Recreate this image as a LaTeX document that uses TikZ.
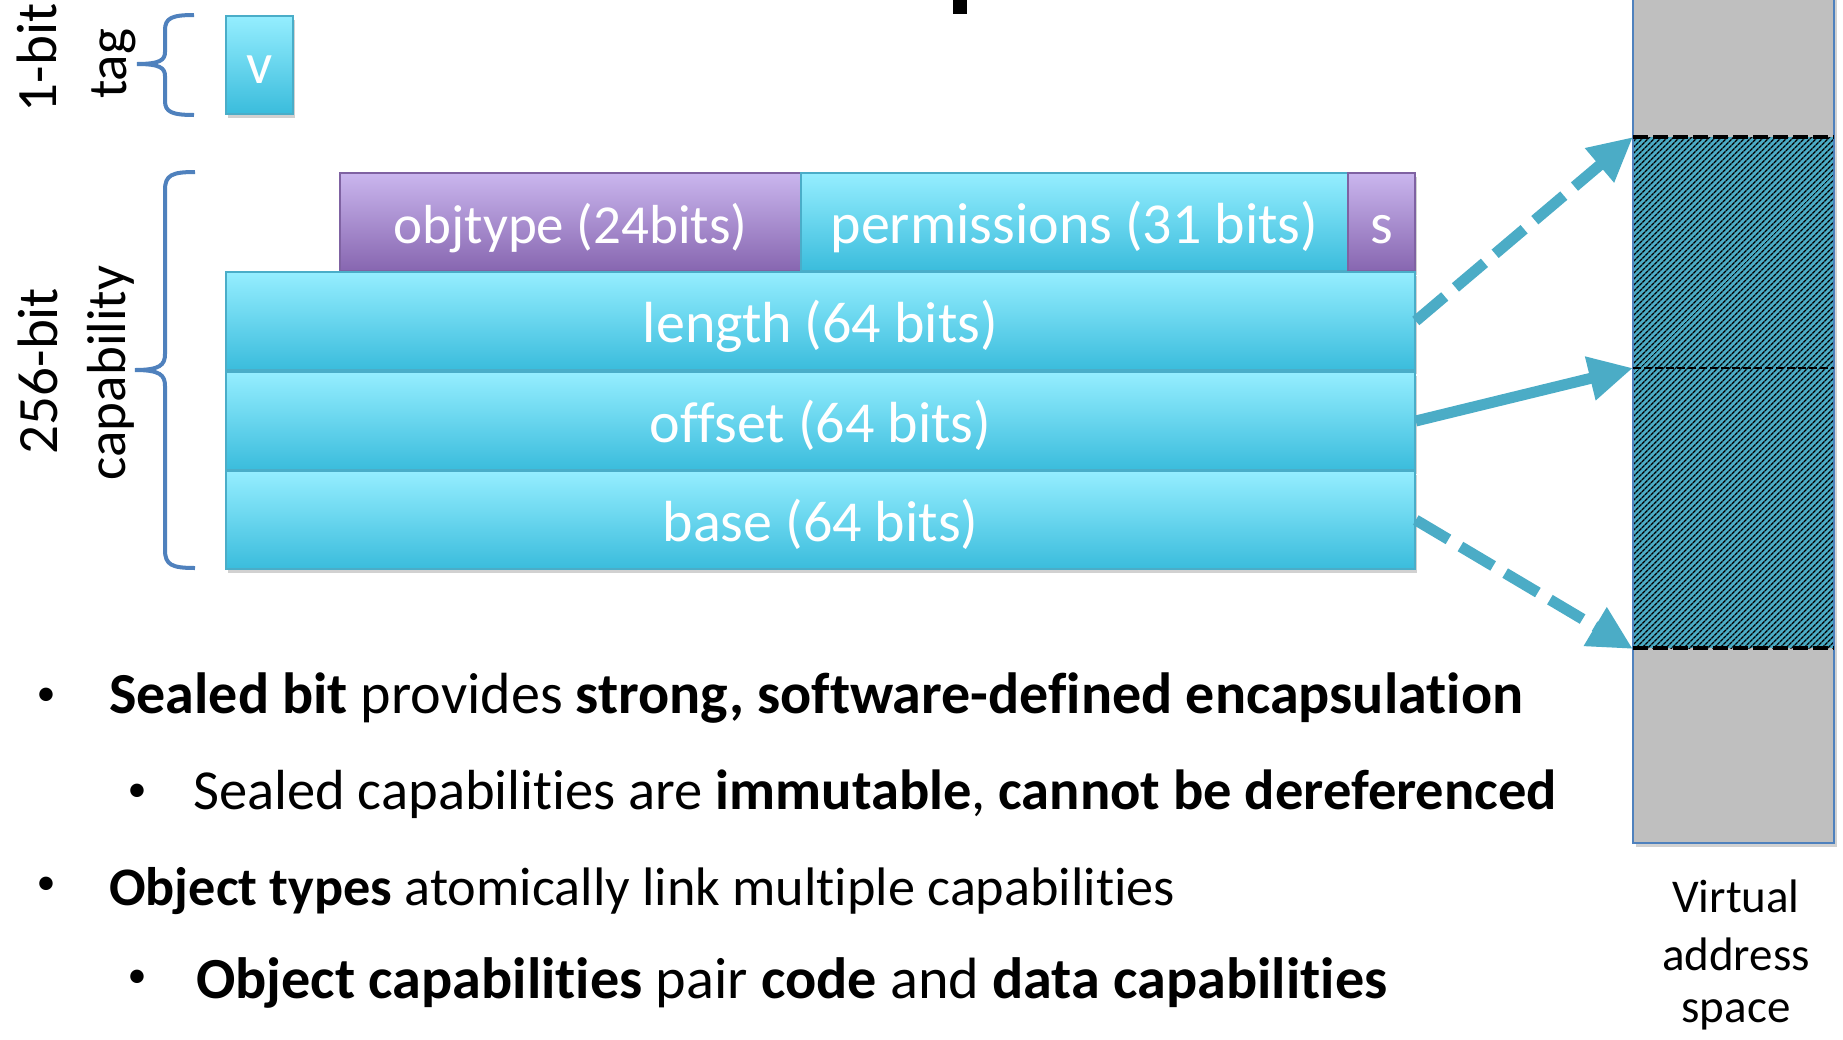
\documentclass[tikz,border=0pt]{standalone}
\usepackage{fontspec}
\setmainfont[Ligatures=NoCommon]{Carlito}
\usetikzlibrary{arrows.meta,patterns.meta,shadows}

\definecolor{cyanTop}{HTML}{95EEFF}
\definecolor{cyanBot}{HTML}{3ABCDC}
\definecolor{cyanEdge}{HTML}{4AADC8}
\definecolor{purpTop}{HTML}{CAB6EE}
\definecolor{purpBot}{HTML}{8766B0}
\definecolor{purpEdge}{HTML}{7F62A2}
\definecolor{pointer}{HTML}{4BACC6}
\definecolor{bracecol}{HTML}{4F81BD}
\definecolor{vagrey}{HTML}{BFBFBF}

\tikzset{
  boxshadow/.style={general shadow={fill=black, opacity=0.18, shadow xshift=2pt, shadow yshift=-4pt}},
  field/.style={boxshadow, inner sep=0pt, minimum height=98pt, line width=1.5pt,
    text=white, font=\fontsize{58}{60}\selectfont, text height=45pt, text depth=3pt},
  cyanfield/.style={field, draw=cyanEdge, top color=cyanTop, bottom color=cyanBot},
  purpfield/.style={field, draw=purpEdge, top color=purpTop, bottom color=purpBot},
  bracket/.style={draw=bracecol, line width=4pt},
  sidelabel/.style={rotate=90, anchor=base, inner sep=0pt, font=\fontsize{57}{60}\selectfont},
  sidelabelsmall/.style={rotate=90, anchor=base, inner sep=0pt, font=\fontsize{55}{60}\selectfont},
  pointerline/.style={draw=pointer, line width=11pt, -{Triangle[length=44pt,width=42pt]}},
  dashpointer/.style={pointerline, dash pattern=on 38pt off 14pt},
  bullettext/.style={anchor=base west, inner sep=0pt, font=\fontsize{54}{60}\selectfont},
  bulletdot/.style={anchor=center, inner sep=0pt, font=\fontsize{38}{40}\selectfont},
  valabel/.style={anchor=base, inner sep=0pt, font=\fontsize{47}{58}\selectfont},
  edgedash/.style={draw=black, line width=4pt, dash pattern=on 15pt off 5pt},
  middash/.style={draw=black, line width=2pt, dash pattern=on 8pt off 3pt},
}

\begin{document}
\begin{tikzpicture}[x=1pt,y=-1pt]
\useasboundingbox[fill=white] (0,0) rectangle (1843,1039);

% descender of the slide title above the frame
\fill[black] (953,-2) rectangle (967,14);

% side labels
\node[sidelabel] (onebit) at (56,58) {1-bit};
\node[sidelabelsmall] (tag) at (126,64) {tag};
\node[sidelabel] (cbits) at (57,371) {256-bit};
\node[sidelabelsmall] (cap) at (125,373) {capability};

% braces
\draw[bracket] (194,15) .. controls (172,15) and (165,18) .. (165,30) -- (165,52)
  .. controls (165,60) and (160,64) .. (137,64)
  .. controls (160,64) and (165,68) .. (165,76) -- (165,101)
  .. controls (165,112) and (172,115) .. (194,115);
\draw[bracket] (195,172) .. controls (172,172) and (165,175) .. (165,190) -- (165,354)
  .. controls (165,365) and (160,370) .. (135,370)
  .. controls (160,370) and (165,375) .. (165,386) -- (165,550)
  .. controls (165,565) and (172,568) .. (195,568);

% tag bit
\node[cyanfield, minimum width=67pt, text height=39pt] (v) at (259.5,65) {v};

% capability fields
\node[purpfield, minimum width=461pt, font=\fontsize{55}{60}\selectfont] (otype) at (570.5,222) {objtype (24bits)};
\node[cyanfield, minimum width=547pt] (perms) at (1074.5,222) {permissions (31 bits)};
\node[purpfield, minimum width=67pt] (sealed) at (1381.5,222) {s};
\node[cyanfield, minimum width=1189pt] (length) at (820.5,321) {length (64 bits)};
\node[cyanfield, minimum width=1189pt] (offset) at (820.5,421) {offset (64 bits)};
\node[cyanfield, minimum width=1189pt] (base) at (820.5,520) {base (64 bits)};

% virtual address space column
\fill[black, opacity=0.18] (1636,-5) rectangle (1837,847);
\filldraw[fill=vagrey, draw=bracecol, line width=2pt] (1633,-5) rectangle (1834,843);
\fill[pointer] (1634,137) rectangle (1833,648);
\path[pattern={Lines[angle=45,distance=4pt,line width=1.5pt]}, pattern color=black]
  (1634,137) rectangle (1833,648);
\draw[edgedash] (1633,137) -- (1834,137);
\draw[edgedash] (1633,648) -- (1834,648);
\draw[middash] (1633,368) -- (1834,368);
\coordinate (vtop) at (1633,137);
\coordinate (vcur) at (1633,368);
\coordinate (vbot) at (1633,649);

% pointers
\draw[dashpointer] (length.east) -- (vtop);
\draw[pointerline] (offset.east) -- (vcur);
\draw[dashpointer] (base.east) -- (vbot);

% label under the column
\node[valabel] (va1) at (1736,912) {Virtual};
\node[valabel] (va2) at (1736,970) {address};
\node[valabel] (va3) at (1736,1022) {space};

% bullet list
\node[bulletdot] (d1) at (46,697) {•};
\node[bullettext] (l1) at (109,713) {\resizebox{1414pt}{!}{\textbf{Sealed bit} provides \textbf{strong, software-defined encapsulation}}};
\node[bulletdot] (d2) at (137,793) {•};
\node[bullettext] (l2) at (193,809) {\resizebox{1364pt}{!}{Sealed capabilities are \textbf{immutable}, \textbf{cannot be dereferenced}}};
\node[bulletdot] (d3) at (46,886) {•};
\node[bullettext] (l3) at (109,905) {\resizebox{1066pt}{!}{\textbf{Object types} atomically link multiple capabilities}};
\node[bulletdot] (d4) at (137,979) {•};
\node[bullettext] (l4) at (196,998) {\resizebox{1191pt}{!}{\textbf{Object capabilities} pair \textbf{code} and \textbf{data capabilities}}};
\end{tikzpicture}
\end{document}
